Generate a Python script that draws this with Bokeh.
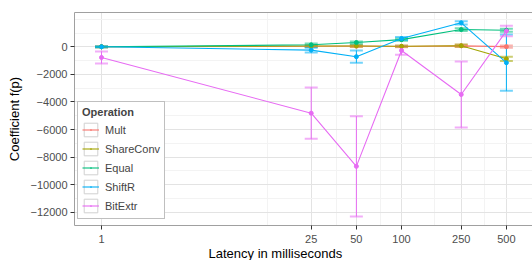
from bokeh.plotting import figure
from bokeh.models import (ColumnDataSource, Whisker, TeeHead, FixedTicker, Legend,
                          LegendItem, LinearAxis, Range1d, Title)
from bokeh.embed import file_html
from bokeh.resources import INLINE

latency = [1, 25, 50, 100, 250, 500]
operations = ["Mult", "ShareConv", "Equal", "ShiftR", "BitExtr"]
colors = ["#F8766D", "#A3A500", "#00BF7D", "#00B0F6", "#E76BF3"]

mult = [0, 40, 50, 20, 70, 10]
mult_err = [30, 60, 60, 60, 80, 80]
shareconv = [0, 60, 60, 40, 80, -870]
shareconv_err = [30, 60, 60, 60, 80, 150]
equal = [0, 145, 310, 520, 1250, 1200]
equal_err = [30, 100, 80, 80, 100, 100]
shiftr = [0, -240, -715, 600, 1740, -1150]
shiftr_err = [30, 170, 445, 110, 120, 2035]
bitextr = [-775, -4810, -8665, -270, -3458, 1150]
bitextr_err = [435, 1860, 3635, 310, 2390, 380]

x_ticks = [1, 25, 50, 100, 250, 500]
x_minor = [12.8, 37, 72, 166, 357]
y_ticks = [-12000, -10000, -8000, -6000, -4000, -2000, 0]
y_minor = [-11000, -9000, -7000, -5000, -3000, -1000, 1000, 2000]

series = [mult, shareconv, equal, shiftr, bitextr]
errors = [mult_err, shareconv_err, equal_err, shiftr_err, bitextr_err]

FONT = "Liberation Sans"
BORDER = "#A0A0A0"

p = figure(width=532, height=260, x_axis_type="log",
           x_range=Range1d(10 ** -0.18, 10 ** 2.873), y_range=Range1d(-12950, 2486),
           output_backend="svg", toolbar_location=None,
           min_border_left=74, min_border_right=0, min_border_top=12, min_border_bottom=35)
p.outline_line_color = None
p.background_fill_color = "white"

xticker = FixedTicker(ticks=x_ticks, minor_ticks=x_minor)
yticker = FixedTicker(ticks=y_ticks, minor_ticks=y_minor)
xax = p.xaxis[0]
yax = p.yaxis[0]
xax.ticker = xticker
xax.major_label_overrides = {t: str(t) for t in x_ticks}
yax.ticker = yticker
yax.major_label_overrides = {t: str(t).replace("-", "\u2212") for t in y_ticks}
for ax in (xax, yax):
    ax.axis_line_color = BORDER
    ax.major_tick_line_color = "#333333"
    ax.major_tick_in = 0
    ax.major_tick_out = 4
    ax.minor_tick_line_color = None
    ax.major_label_text_font = FONT
    ax.major_label_text_font_size = "11px"
    ax.major_label_text_color = "#4D4D4D"
    ax.major_label_standoff = 3
    ax.axis_label_text_font = FONT
    ax.axis_label_text_font_size = "13px"
    ax.axis_label_text_font_style = "normal"
    ax.axis_label_text_color = "black"
xax.major_label_standoff = 5
yax.axis_label = "Coefficient f(p)"
yax.axis_label_standoff = 5

xt = Title(text="Latency in milliseconds", align="left", offset=134, standoff=-4,
           text_font=FONT, text_font_size="13px", text_font_style="normal",
           text_color="black")
p.add_layout(xt, "below")

top = LinearAxis(ticker=FixedTicker(ticks=[]), major_label_text_font_size="0px",
                 major_tick_line_color=None, minor_tick_line_color=None,
                 axis_line_color=BORDER)
p.add_layout(top, "above")

# grids
p.xgrid[0].ticker = xticker
p.ygrid[0].ticker = yticker
for g in (p.xgrid[0], p.ygrid[0]):
    g.grid_line_color = "#E3E3E3"
    g.grid_line_width = 1
    g.minor_grid_line_color = "#F3F3F3"
    g.minor_grid_line_width = 1

items = []
for name, col, vals, err in zip(operations, colors, series, errors):
    src = ColumnDataSource(dict(
        x=latency, y=vals,
        upper=[v + e for v, e in zip(vals, err)],
        lower=[v - e for v, e in zip(vals, err)],
    ))
    # zero-size quads: invisible in the plot, draw the grey key box in the legend
    box = p.quad(left="x", right="x", top="y", bottom="y", source=src,
                 fill_color="white", line_color="#D0D0D0", line_width=1)
    ln = p.line("x", "y", source=src, line_color=col, line_width=1.1)
    w = Whisker(source=src, base="x", upper="upper", lower="lower",
                line_color=col, line_width=1,
                upper_head=TeeHead(size=13, line_color=col, line_alpha=0.55, line_width=2),
                lower_head=TeeHead(size=13, line_color=col, line_alpha=0.55, line_width=2))
    p.add_layout(w)
    key_dot = p.scatter("x", "y", source=src, marker="dot", size=4, color=col)
    p.scatter("x", "y", source=src, size=4, color=col)
    items.append(LegendItem(label=name, renderers=[box, ln, key_dot]))

legend = Legend(items=items, location=(3, 6), title="Operation",
                title_text_font=FONT, title_text_font_style="bold", title_text_font_size="11px",
                title_standoff=3,
                label_text_font=FONT, label_text_font_size="11px", label_height=17,
                glyph_width=17, glyph_height=17, spacing=2, padding=4, margin=0,
                label_standoff=6, border_line_color="#808080", border_line_width=1,
                background_fill_color="white", background_fill_alpha=1)
p.add_layout(legend)

open("out.html", "w").write(file_html(p, INLINE))
